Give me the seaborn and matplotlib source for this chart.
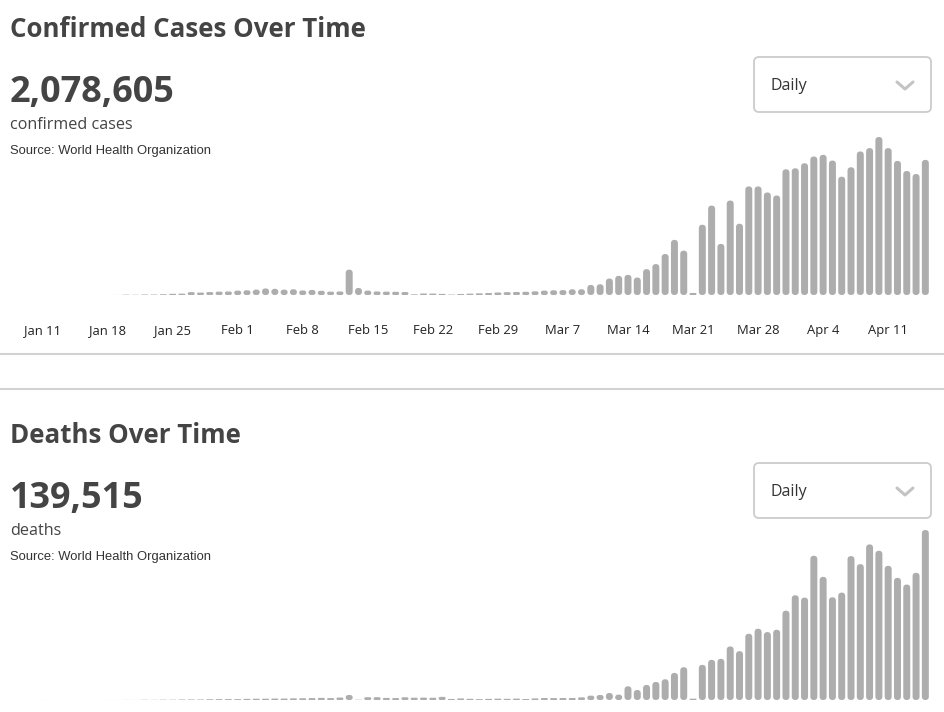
import pandas as pd
import seaborn as sns
import matplotlib.pyplot as plt
from matplotlib.patches import FancyBboxPatch
from matplotlib.lines import Line2D
from matplotlib.transforms import IdentityTransform

# === Data (daily counts) ===
W, H, DPI = 944, 712, 100

dates = pd.date_range("2020-01-08", "2020-04-15", freq="D")
tick_labels = ["Jan 11", "Jan 18", "Jan 25", "Feb 1", "Feb 8", "Feb 15", "Feb 22",
               "Feb 29", "Mar 7", "Mar 14", "Mar 21", "Mar 28", "Apr 4", "Apr 11"]

cases_jan = [0, 0, 0,
             1, 0, 1, 1, 1, 0, 1, 4, 17,
             200, 150, 300, 280, 450, 700, 800,
             1700, 1450, 1750, 2000, 2100]
cases_feb = [2600, 2800, 3200, 3900, 3700, 3200, 3400, 2700, 3000, 2500, 2000, 2100,
             15100, 4200,
             2600, 2100, 2000, 1900, 1750,
             400, 900, 850, 650, 250, 600, 800, 1000, 1200, 1500]
cases_mar = [1700, 1800, 1900, 2200, 2600, 2800, 2900, 3400, 3400,
             6000, 6400, 9800, 11400, 12000, 10400, 15400, 18400, 24400, 32800, 26400, 1200,
             41800, 53200, 30400, 56200, 42400, 64600, 64600, 61000, 59200, 74800]
cases_apr = [75400, 78400, 82400, 83400, 80000, 70400, 76000, 85400, 87400, 94000,
             87400, 79800, 73800, 72000, 80400]

deaths_jan = [0, 0, 0,
              1, 0, 0, 0, 0, 0, 0, 1, 1,
              3, 3, 11, 8, 16, 15, 24,
              26, 26, 38, 43, 46]
deaths_feb = [45, 57, 64, 66, 73, 73, 86, 89, 97, 108, 97, 125,
              254, 13,
              143, 142, 106, 98, 139,
              116, 121, 114, 160, 52, 79, 62, 44, 58, 68]
deaths_mar = [60, 70, 50, 80, 100, 98,
              102, 102, 136, 221, 255, 357, 272, 697, 510, 765, 918, 1054, 1377, 1666, 68,
              1785, 2040, 2091, 2720, 2482, 3366, 3621, 3451, 3570, 4539]
deaths_apr = [5321, 5202, 7327, 6256, 5219, 5457, 7310, 6902, 7905, 7582,
              6817, 6205, 5865, 6460, 8636]

cases = cases_jan + cases_feb + cases_mar + cases_apr
deaths = deaths_jan + deaths_feb + deaths_mar + deaths_apr

BAR = "#adadad"
DARK = "#444444"
LINE = "#d2d2d2"

sns.set_style("white")
plt.rcParams["font.family"] = ["Open Sans", "DejaVu Sans"]

fig = plt.figure(figsize=(W / DPI, H / DPI), dpi=DPI)


def fx(px):
    return px / W


def fy(py):
    return 1 - py / H


def round_bars(ax, ymax):
    # swap seaborn's rectangles for pill shaped bars of the same geometry
    pos = ax.get_position()
    x0, x1 = ax.get_xlim()
    aspect = (ymax / (pos.height * H)) / ((x1 - x0) / (pos.width * W))
    for p in list(ax.patches):
        x, w, h = p.get_x(), p.get_width(), p.get_height()
        p.remove()
        if h <= 0:
            continue
        r = min(w / 2, h / aspect / 2)
        ax.add_patch(FancyBboxPatch((x, 0), w, h,
                                    boxstyle=f"round,pad=0,rounding_size={r}",
                                    mutation_aspect=aspect, fc=BAR, ec="none"))


def dropdown(top):
    box = FancyBboxPatch((754, H - top - 55), 177, 55,
                         boxstyle="round,pad=0,rounding_size=5",
                         transform=IdentityTransform(), fc="white", ec="#cccccc", lw=1.3)
    fig.add_artist(box)
    fig.text(fx(771), fy(top + 29), "Daily", fontsize=11.5, color="#333333", va="center")
    fig.add_artist(Line2D([897, 905, 913], [H - top - 25, H - top - 32, H - top - 25],
                          transform=IdentityTransform(), color="#c4c4c4", lw=2.2,
                          solid_capstyle="round", solid_joinstyle="round"))


def panel(top, title, total, unit, values, base_px, max_px, show_ticks):
    fig.text(fx(10), fy(top + 37), title, fontsize=18.6, fontweight="bold", color=DARK)
    fig.text(fx(10), fy(top + 102), total, fontsize=25.9, fontweight="bold", color=DARK)
    fig.text(fx(10), fy(top + 129), unit, fontsize=11.6, color=DARK)
    fig.text(fx(10), fy(top + 154), "Source: World Health Organization", fontsize=9.4,
             color="#333333", family=["Liberation Sans", "DejaVu Sans"])
    dropdown(top + 57)

    ax_top = base_px - 175
    ax = fig.add_axes([fx(10), fy(base_px), fx(930) - fx(10), (base_px - ax_top) / H])
    df = pd.DataFrame({"day": dates.strftime("%Y-%m-%d"), "value": values})
    sns.barplot(data=df, x="day", y="value", color=BAR, width=0.75, saturation=1, ax=ax)
    ymax = max(values) * (base_px - ax_top) / (base_px - max_px)
    ax.set_ylim(0, ymax)
    ax.set_xlim(-0.5, len(values) - 0.5)
    round_bars(ax, ymax)

    labels = [f"{d:%b} {d.day}" for d in dates]
    if show_ticks:
        ticks = [labels.index(t) for t in tick_labels]
        ax.set_xticks(ticks)
        ax.set_xticklabels(tick_labels, fontsize=9.4, color="#222222", va="baseline")
        ax.tick_params(axis="x", length=0, pad=28)
    else:
        ax.set_xticks([])
    ax.set_yticks([])
    ax.set_xlabel("")
    ax.set_ylabel("")
    sns.despine(ax=ax, left=True, bottom=True)
    ax.patch.set_alpha(0)


panel(0, "Confirmed Cases Over Time", "2,078,605", "confirmed cases", cases, 295, 137, True)
panel(406, "Deaths Over Time", "139,515", "deaths", deaths, 700, 530, False)

for y in (354, 389):
    fig.add_artist(Line2D([0, W], [H - y, H - y], transform=IdentityTransform(),
                          color=LINE, lw=1.5))

fig.savefig("out.png", dpi=DPI)
